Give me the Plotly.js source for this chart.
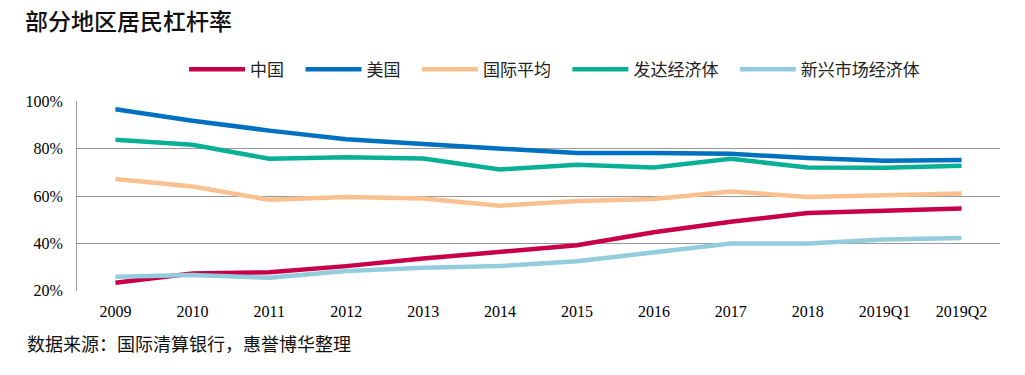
<!DOCTYPE html>
<html>
<head>
<meta charset="utf-8">
<script src="https://cdn.plot.ly/plotly-3.0.1.min.js"></script>
<style>html,body{margin:0;padding:0;background:#fff;}#chart{width:1025px;height:375px;}</style>
</head>
<body>
<div id="chart"></div>
<script>
const categories = ["2009","2010","2011","2012","2013","2014","2015","2016","2017","2018","2019Q1","2019Q2"];
const china    = [23.4, 27.3, 27.8, 30.4, 33.6, 36.3, 39.2, 44.7, 49.1, 52.8, 53.9, 54.7];
const usa      = [96.6, 91.8, 87.6, 84.0, 81.9, 79.8, 78.1, 78.1, 77.8, 76.0, 74.9, 75.2];
const intlAvg  = [67.2, 64.0, 58.4, 59.6, 58.9, 55.9, 57.9, 58.7, 61.9, 59.6, 60.3, 61.1];
const advanced = [83.7, 81.6, 75.7, 76.4, 75.8, 71.2, 73.2, 72.0, 75.7, 72.0, 71.9, 72.8];
const emerging = [25.9, 26.7, 25.5, 28.3, 29.7, 30.4, 32.5, 36.3, 39.9, 39.9, 41.6, 42.3];
const seriesNames = ["中国","美国","国际平均","发达经济体","新兴市场经济体"];
const yTickVals = [20, 40, 60, 80, 100];
const yTickText = ["20%", "40%", "60%", "80%", "100%"];

const colors = ["#C8004A","#0070C0","#FAC090","#0AB096","#93CDDD"];
const dataSets = [china, usa, intlAvg, advanced, emerging];
const traces = dataSets.map((d, i) => ({
  type: "scatter", mode: "lines", x: categories, y: d, name: seriesNames[i] + "\u00a0\u00a0\u00a0",
  line: {color: colors[i], width: 4.5}, hoverinfo: "skip"
}));

const cjk = '"Noto Sans CJK SC", "Noto Sans", sans-serif';
const serif = '"Liberation Serif", "DejaVu Serif", serif';

const layout = {
  width: 1025, height: 375,
  margin: {l: 77, r: 25, t: 101, b: 84},
  paper_bgcolor: "#fff", plot_bgcolor: "#fff",
  showlegend: true,
  title: {text: "部分地区居民杠杆率", x: 25/1025, xref: "container", xanchor: "left", y: 1 - 22/375, yref: "container", yanchor: "middle",
          font: {family: cjk, size: 23, color: "#111", weight: 500}},
  legend: {orientation: "h", x: 0.116, xanchor: "left", y: 1.165, yanchor: "middle", yref: "paper",
           font: {family: cjk, size: 17, color: "#222"}, itemwidth: 56, traceorder: "normal",
           bgcolor: "rgba(0,0,0,0)"},
  xaxis: {type: "category", range: [-0.5, 11.5], showgrid: false, zeroline: false,
          showline: false, ticks: "outside", ticklen: 6, tickcolor: "rgba(0,0,0,0)",
          tickfont: {family: serif, size: 16, color: "#000"}},
  yaxis: {range: [19.9, 100.1], tickmode: "array", tickvals: yTickVals, ticktext: yTickText,
          showgrid: true, gridcolor: "#999999", gridwidth: 1,
          zeroline: false, showline: true, linecolor: "#999999", linewidth: 1,
          ticks: "outside", ticklen: 10, tickcolor: "rgba(0,0,0,0)",
          tickfont: {family: serif, size: 16, color: "#000"}},
  annotations: [{
    text: "数据来源：国际清算银行，惠誉博华整理", xref: "paper", yref: "paper", x: (25 - 77) / 923, y: -(343 - 291) / 190,
    xanchor: "left", yanchor: "middle", showarrow: false, font: {family: cjk, size: 18, color: "#111"}
  }]
};

Plotly.newPlot("chart", traces, layout, {displayModeBar: false});
</script>
</body>
</html>
